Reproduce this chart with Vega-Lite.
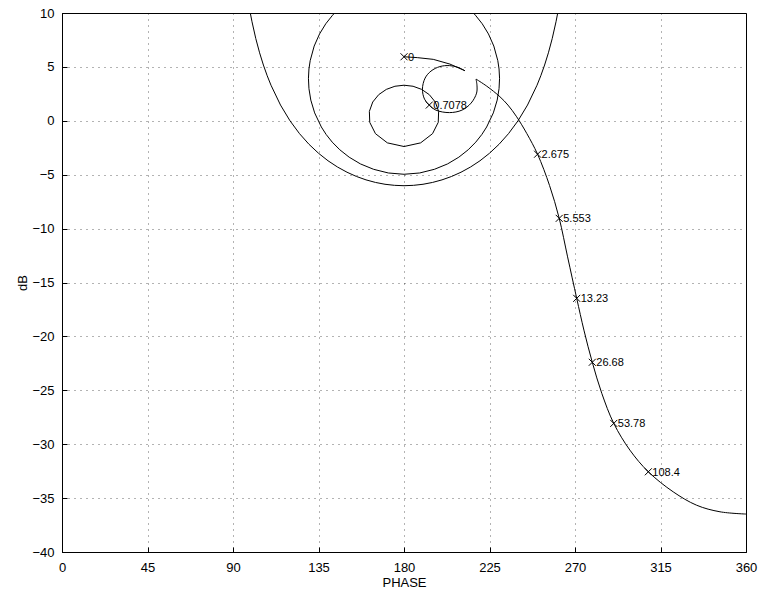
{
  "$schema": "https://vega.github.io/schema/vega-lite/v6.json",
  "width": 684,
  "height": 539,
  "autosize": {"type": "none"},
  "padding": {"left": 62, "top": 13, "right": 14, "bottom": 42},
  "config": {
    "view": {"stroke": "black", "strokeWidth": 1},
    "font": "Liberation Sans",
    "axis": {
      "labelFont": "Liberation Sans",
      "titleFont": "Liberation Sans",
      "labelFontSize": 13,
      "titleFontSize": 13,
      "titleFontWeight": "normal",
      "labelColor": "black",
      "titleColor": "black",
      "domainColor": "black",
      "tickColor": "black",
      "gridColor": "#000000",
      "gridDash": [1, 5],
      "gridOpacity": 0.6
    }
  },
  "layer": [
    {
      "data": {
        "values": [
          {"s": "m0", "p": 99.1, "d": 10.0},
          {"s": "m0", "p": 100, "d": 9.186},
          {"s": "m0", "p": 102, "d": 7.622},
          {"s": "m0", "p": 104, "d": 6.306},
          {"s": "m0", "p": 106, "d": 5.172},
          {"s": "m0", "p": 108, "d": 4.18},
          {"s": "m0", "p": 110, "d": 3.298},
          {"s": "m0", "p": 115, "d": 1.46},
          {"s": "m0", "p": 120, "d": 0},
          {"s": "m0", "p": 125, "d": -1.192},
          {"s": "m0", "p": 130, "d": -2.182},
          {"s": "m0", "p": 135, "d": -3.01},
          {"s": "m0", "p": 140, "d": -3.706},
          {"s": "m0", "p": 145, "d": -4.288},
          {"s": "m0", "p": 150, "d": -4.771},
          {"s": "m0", "p": 155, "d": -5.166},
          {"s": "m0", "p": 160, "d": -5.48},
          {"s": "m0", "p": 165, "d": -5.719},
          {"s": "m0", "p": 170, "d": -5.888},
          {"s": "m0", "p": 175, "d": -5.987},
          {"s": "m0", "p": 180, "d": -6.021},
          {"s": "m0", "p": 185, "d": -5.987},
          {"s": "m0", "p": 190, "d": -5.888},
          {"s": "m0", "p": 195, "d": -5.719},
          {"s": "m0", "p": 200, "d": -5.48},
          {"s": "m0", "p": 205, "d": -5.166},
          {"s": "m0", "p": 210, "d": -4.771},
          {"s": "m0", "p": 215, "d": -4.288},
          {"s": "m0", "p": 220, "d": -3.706},
          {"s": "m0", "p": 225, "d": -3.01},
          {"s": "m0", "p": 230, "d": -2.182},
          {"s": "m0", "p": 235, "d": -1.192},
          {"s": "m0", "p": 240, "d": 0},
          {"s": "m0", "p": 245, "d": 1.46},
          {"s": "m0", "p": 250, "d": 3.298},
          {"s": "m0", "p": 252, "d": 4.18},
          {"s": "m0", "p": 254, "d": 5.172},
          {"s": "m0", "p": 256, "d": 6.306},
          {"s": "m0", "p": 258, "d": 7.622},
          {"s": "m0", "p": 260, "d": 9.186},
          {"s": "m0", "p": 260.9, "d": 10.0},

          {"s": "m2", "p": 143.51, "d": 10},
          {"s": "m2", "p": 142.43, "d": 9.799},
          {"s": "m2", "p": 138.83, "d": 9.001},
          {"s": "m2", "p": 135.55, "d": 8.056},
          {"s": "m2", "p": 132.73, "d": 6.932},
          {"s": "m2", "p": 130.63, "d": 5.582},
          {"s": "m2", "p": 129.97, "d": 4.804},
          {"s": "m2", "p": 129.71, "d": 3.942},
          {"s": "m2", "p": 129.97, "d": 2.986},
          {"s": "m2", "p": 130.95, "d": 1.92},
          {"s": "m2", "p": 132.97, "d": 0.734},
          {"s": "m2", "p": 136.5, "d": -0.574},
          {"s": "m2", "p": 139.03, "d": -1.27},
          {"s": "m2", "p": 142.23, "d": -1.98},
          {"s": "m2", "p": 146.23, "d": -2.69},
          {"s": "m2", "p": 151.14, "d": -3.375},
          {"s": "m2", "p": 157.07, "d": -4.0},
          {"s": "m2", "p": 164.0, "d": -4.5},
          {"s": "m2", "p": 171.75, "d": -4.84},
          {"s": "m2", "p": 180, "d": -4.96},
          {"s": "m2", "p": 188.25, "d": -4.84},
          {"s": "m2", "p": 196.0, "d": -4.5},
          {"s": "m2", "p": 202.93, "d": -4.0},
          {"s": "m2", "p": 208.86, "d": -3.375},
          {"s": "m2", "p": 213.77, "d": -2.69},
          {"s": "m2", "p": 217.77, "d": -1.98},
          {"s": "m2", "p": 220.97, "d": -1.27},
          {"s": "m2", "p": 223.5, "d": -0.574},
          {"s": "m2", "p": 227.03, "d": 0.734},
          {"s": "m2", "p": 229.05, "d": 1.92},
          {"s": "m2", "p": 230.03, "d": 2.986},
          {"s": "m2", "p": 230.29, "d": 3.942},
          {"s": "m2", "p": 230.03, "d": 4.804},
          {"s": "m2", "p": 229.37, "d": 5.582},
          {"s": "m2", "p": 227.27, "d": 6.932},
          {"s": "m2", "p": 224.45, "d": 8.056},
          {"s": "m2", "p": 221.17, "d": 9.001},
          {"s": "m2", "p": 217.57, "d": 9.799},
          {"s": "m2", "p": 216.49, "d": 10},

          {"s": "m10", "p": 180, "d": -2.386},
          {"s": "m10", "p": 188.75, "d": -2.047},
          {"s": "m10", "p": 195.02, "d": -1.193},
          {"s": "m10", "p": 198.02, "d": -0.143},
          {"s": "m10", "p": 198.23, "d": 0.872},
          {"s": "m10", "p": 196.45, "d": 1.743},
          {"s": "m10", "p": 193.3, "d": 2.427},
          {"s": "m10", "p": 189.29, "d": 2.914},
          {"s": "m10", "p": 184.77, "d": 3.205},
          {"s": "m10", "p": 180, "d": 3.302},
          {"s": "m10", "p": 175.23, "d": 3.205},
          {"s": "m10", "p": 170.71, "d": 2.914},
          {"s": "m10", "p": 166.7, "d": 2.427},
          {"s": "m10", "p": 163.55, "d": 1.743},
          {"s": "m10", "p": 161.77, "d": 0.872},
          {"s": "m10", "p": 161.98, "d": -0.143},
          {"s": "m10", "p": 164.98, "d": -1.193},
          {"s": "m10", "p": 171.25, "d": -2.047},
          {"s": "m10", "p": 180, "d": -2.386},

          {"s": "nc1", "p": 180.0, "d": 5.94},
          {"s": "nc1", "p": 187.0, "d": 5.86},
          {"s": "nc1", "p": 195.4, "d": 5.7},
          {"s": "nc1", "p": 204.2, "d": 5.26},
          {"s": "nc1", "p": 212.1, "d": 4.64}
        ]
      },
      "mark": {"type": "line", "color": "black", "strokeWidth": 1, "clip": true},
      "encoding": {
        "x": {
          "field": "p", "type": "quantitative",
          "scale": {"domain": [0, 360], "nice": false, "zero": false},
          "axis": {
            "orient": "bottom", "title": "PHASE",
            "values": [0, 45, 90, 135, 180, 225, 270, 315, 360],
            "grid": true, "tickSize": -5, "labelPadding": 14, "titlePadding": 2,
            "labelFlush": false
          }
        },
        "y": {
          "field": "d", "type": "quantitative",
          "scale": {"domain": [-40, 10], "nice": false, "zero": false},
          "axis": {
            "orient": "left", "title": "dB",
            "values": [-40, -35, -30, -25, -20, -15, -10, -5, 0, 5, 10],
            "grid": true, "tickSize": -5, "labelPadding": 13, "titlePadding": 2,
            "labelFlush": false
          }
        },
        "detail": {"field": "s"},
        "order": {"value": null}
      }
    },
    {
      "data": {
        "values": [
          {"s": "nc2", "p": 212.1, "d": 4.64},
          {"s": "nc2", "p": 208.4, "d": 4.96},
          {"s": "nc2", "p": 203.9, "d": 5.12},
          {"s": "nc2", "p": 198.9, "d": 5.03},
          {"s": "nc2", "p": 194.2, "d": 4.61},
          {"s": "nc2", "p": 191.1, "d": 3.96},
          {"s": "nc2", "p": 189.7, "d": 2.94},
          {"s": "nc2", "p": 190.8, "d": 2.01},
          {"s": "nc2", "p": 193.3, "d": 1.46},
          {"s": "nc2", "p": 196.8, "d": 0.99},
          {"s": "nc2", "p": 203.9, "d": 0.76},
          {"s": "nc2", "p": 210.5, "d": 0.99},
          {"s": "nc2", "p": 215.3, "d": 1.64},
          {"s": "nc2", "p": 218.2, "d": 2.57},
          {"s": "nc2", "p": 218.4, "d": 3.31},
          {"s": "nc2", "p": 217.9, "d": 3.87},

          {"s": "nc3", "p": 217.9, "d": 3.87},
          {"s": "nc3", "p": 223.5, "d": 3.22},
          {"s": "nc3", "p": 230.5, "d": 2.23},
          {"s": "nc3", "p": 234.7, "d": 1.46},
          {"s": "nc3", "p": 239.3, "d": 0.37},
          {"s": "nc3", "p": 244.6, "d": -1.17},
          {"s": "nc3", "p": 250.3, "d": -3.1},
          {"s": "nc3", "p": 256.6, "d": -6.0},
          {"s": "nc3", "p": 261.7, "d": -9.05},
          {"s": "nc3", "p": 266.1, "d": -12.62},
          {"s": "nc3", "p": 270.9, "d": -16.47},
          {"s": "nc3", "p": 274.7, "d": -19.42},
          {"s": "nc3", "p": 279.1, "d": -22.4},
          {"s": "nc3", "p": 284.1, "d": -25.28},
          {"s": "nc3", "p": 290.4, "d": -28.07},
          {"s": "nc3", "p": 298.9, "d": -30.55},
          {"s": "nc3", "p": 308.6, "d": -32.56},
          {"s": "nc3", "p": 321.7, "d": -34.42},
          {"s": "nc3", "p": 334.0, "d": -35.66},
          {"s": "nc3", "p": 346.3, "d": -36.27},
          {"s": "nc3", "p": 360.0, "d": -36.48}
        ]
      },
      "mark": {"type": "line", "color": "black", "strokeWidth": 1, "clip": true, "interpolate": "catmull-rom"},
      "encoding": {
        "x": {"field": "p", "type": "quantitative", "scale": {"domain": [0, 360], "nice": false, "zero": false}, "axis": null},
        "y": {"field": "d", "type": "quantitative", "scale": {"domain": [-40, 10], "nice": false, "zero": false}, "axis": null},
        "detail": {"field": "s"},
        "order": {"value": null}
      }
    },
    {
      "data": {
        "values": [
          {"p": 180.0, "d": 5.94, "label": "0"},
          {"p": 193.3, "d": 1.46, "label": "0.7078"},
          {"p": 250.3, "d": -3.1, "label": "2.675"},
          {"p": 261.7, "d": -9.05, "label": "5.553"},
          {"p": 270.9, "d": -16.47, "label": "13.23"},
          {"p": 279.1, "d": -22.4, "label": "26.68"},
          {"p": 290.4, "d": -28.07, "label": "53.78"},
          {"p": 308.6, "d": -32.56, "label": "108.4"}
        ]
      },
      "layer": [
        {
          "mark": {"type": "point", "shape": "M-1,-1L1,1M-1,1L1,-1", "size": 49, "filled": false, "color": "black", "strokeWidth": 1, "opacity": 1},
          "encoding": {
            "x": {
              "field": "p", "type": "quantitative",
              "scale": {"domain": [0, 360], "nice": false, "zero": false},
              "axis": {"orient": "top", "labels": false, "grid": false, "title": null, "tickSize": -5,
                       "values": [0, 45, 90, 135, 180, 225, 270, 315, 360]}
            },
            "y": {
              "field": "d", "type": "quantitative",
              "scale": {"domain": [-40, 10], "nice": false, "zero": false},
              "axis": {"orient": "right", "labels": false, "grid": false, "title": null, "tickSize": -5,
                       "values": [-40, -35, -30, -25, -20, -15, -10, -5, 0, 5, 10]}
            }
          }
        },
        {
          "mark": {"type": "text", "align": "left", "baseline": "middle", "dx": 4, "dy": 1, "fontSize": 11, "font": "Liberation Sans", "color": "black"},
          "encoding": {
            "x": {"field": "p", "type": "quantitative", "axis": null},
            "y": {"field": "d", "type": "quantitative", "axis": null},
            "text": {"field": "label"}
          }
        }
      ]
    }
  ]
}
